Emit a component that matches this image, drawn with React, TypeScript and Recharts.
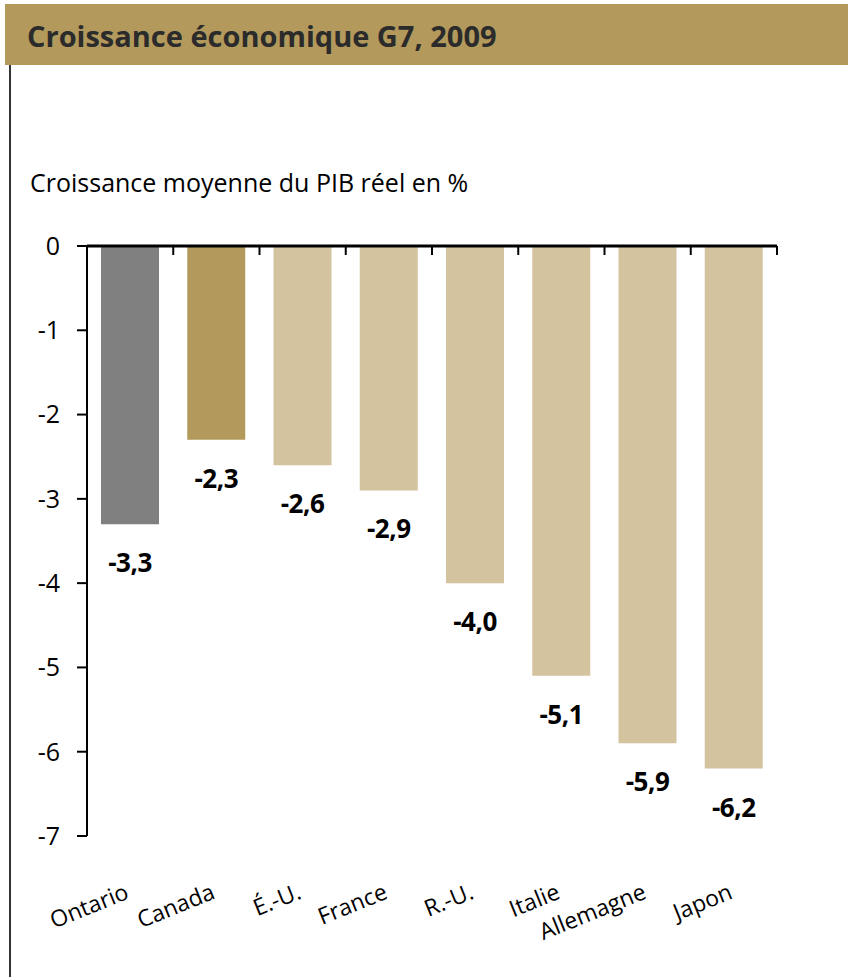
import { Bar, BarChart, Cell, LabelList, ReferenceLine, XAxis, YAxis } from "recharts";

const categories = ["Ontario", "Canada", "É.-U.", "France", "R.-U.", "Italie", "Allemagne", "Japon"];
const growth = [-3.3, -2.3, -2.6, -2.9, -4.0, -5.1, -5.9, -6.2];
const yTicks = [0, -1, -2, -3, -4, -5, -6, -7];

const GREY = "#808080";
const GOLD = "#B39A5C";
const TAN = "#D4C39F";
const FONT = "'Open Sans', 'DejaVu Sans', sans-serif";

const W = 848;
const H = 977;
const PLOT_TOP = 246;
const PLOT_LEFT = 87;
const PLOT_RIGHT = 777;
const PLOT_BOTTOM = 836;
const X_AXIS_H = 30;
const BAND = (PLOT_RIGHT - PLOT_LEFT) / categories.length;
const LABEL_Y = 898;

const data = categories.map((name, i) => ({ name, value: growth[i] }));

function barColor(name: string) {
  if (name === "Ontario") return GREY;
  if (name === "Canada") return GOLD;
  return TAN;
}

function fmt(v: number) {
  return v.toFixed(1).replace(".", ",");
}

// category label plus the little tick at the right edge of each band (hangs down from the zero line)
function CategoryTick(props: any) {
  const { x, payload } = props;
  const tx = x + BAND / 2;
  return (
    <g>
      <line x1={tx} x2={tx} y1={PLOT_TOP} y2={PLOT_TOP + 9} stroke="#000" strokeWidth={2} />
      <text
        x={x}
        y={LABEL_Y}
        textAnchor="end"
        transform={`rotate(-22 ${x} ${LABEL_Y})`}
        fontFamily={FONT}
        fontSize={23}
        fill="#000"
      >
        {payload.value}
      </text>
    </g>
  );
}

function ValueLabel(props: any) {
  const x = Number(props.x);
  const y = Number(props.y);
  const w = Number(props.width);
  const h = Number(props.height);
  const bottom = Math.max(y, y + h);
  return (
    <text
      x={x + w / 2}
      y={bottom + 48}
      textAnchor="middle"
      fontFamily={FONT}
      fontWeight={700}
      fontSize={26}
      letterSpacing={-0.5}
      fill="#000"
    >
      {fmt(Number(props.value))}
    </text>
  );
}

export default function App() {
  return (
    <div style={{ position: "absolute", left: 0, top: 0, width: W, height: H, background: "#fff" }}>
      <svg width={W} height={H} style={{ position: "absolute", left: 0, top: 0 }}>
        <rect x={5} y={4} width={W - 5} height={61} fill={GOLD} />
        <text x={27} y={47} fontFamily={FONT} fontWeight={700} fontSize={29} fill="#2B2B2B">
          Croissance économique G7, 2009
        </text>
        <rect x={9} y={65} width={2} height={H - 65} fill="#333" />
        <text x={30} y={192} fontFamily={FONT} fontSize={25} fill="#000">
          Croissance moyenne du PIB réel en %
        </text>
      </svg>
      <div style={{ position: "absolute", left: 0, top: 0 }}>
        <BarChart
          width={W}
          height={H}
          data={data}
          margin={{ top: PLOT_TOP, right: W - PLOT_RIGHT, bottom: H - PLOT_BOTTOM - X_AXIS_H, left: 0 }}
        >
          <XAxis
            dataKey="name"
            height={X_AXIS_H}
            interval={0}
            axisLine={false}
            tickLine={false}
            tick={<CategoryTick />}
          />
          <YAxis
            width={PLOT_LEFT}
            domain={[-7, 0]}
            ticks={yTicks}
            interval={0}
            axisLine={{ stroke: "#000", strokeWidth: 2 }}
            tickLine={{ stroke: "#000", strokeWidth: 2 }}
            tickSize={10}
            tickMargin={17}
            tick={{ fontFamily: FONT, fontSize: 25, fill: "#000" }}
          />
          <Bar dataKey="value" barSize={58} isAnimationActive={false}>
            {data.map((d) => (
              <Cell key={d.name} fill={barColor(d.name)} />
            ))}
            <LabelList dataKey="value" content={<ValueLabel />} />
          </Bar>
          <ReferenceLine y={0} stroke="#000" strokeWidth={3} />
        </BarChart>
      </div>
    </div>
  );
}
